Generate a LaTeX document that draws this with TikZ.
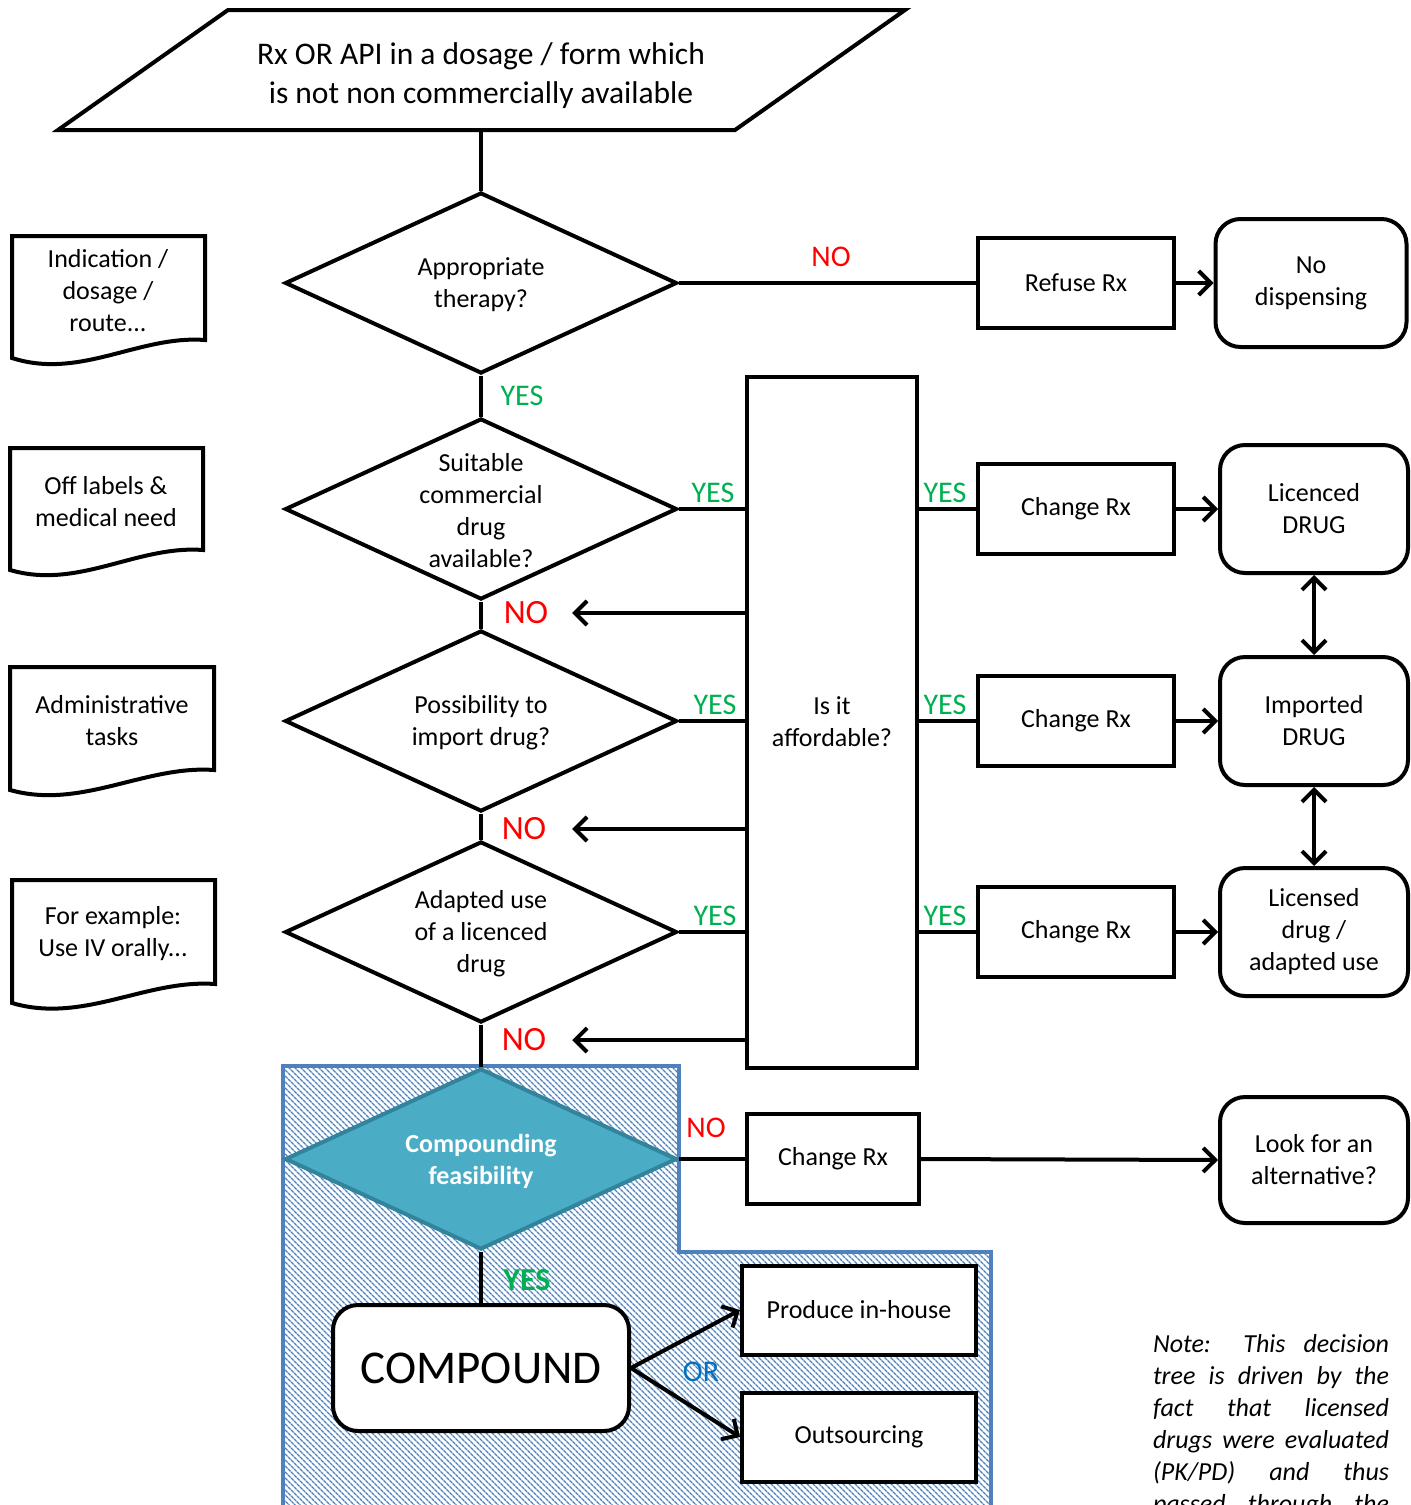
\documentclass[tikz,border=0pt]{standalone}
\usepackage{fontspec}
\setmainfont{Carlito}
\usetikzlibrary{shapes.geometric,arrows.meta,patterns.meta}
\definecolor{myred}{RGB}{255,0,0}
\definecolor{mygreen}{RGB}{0,176,80}
\definecolor{myblue}{RGB}{0,112,192}
\definecolor{hatchblue}{RGB}{79,129,189}
\definecolor{tealfill}{RGB}{75,172,198}
\definecolor{tealline}{RGB}{49,132,155}
\tikzset{
  txtbase/.style={font=\fontsize{26}{32}\selectfont, align=center, inner sep=0pt},
  txt/.style={txtbase, yshift=-2pt},
  box/.style={draw, fill=white, rectangle, minimum width=196pt, minimum height=90pt, txtbase},
  rbox/.style={box, rounded corners=25pt, minimum width=188pt, minimum height=128pt},
  dia/.style={draw, fill=white, diamond, minimum width=392pt, minimum height=181pt, inner sep=0pt},
  arr/.style={-{Straight Barb[length=12pt,width=24pt]}},
  dbl/.style={{Straight Barb[length=12pt,width=24pt]}-{Straight Barb[length=12pt,width=24pt]}},
  yeslab/.style={text=mygreen, font=\fontsize{30}{36}\selectfont, inner sep=0pt},
  nolab/.style={text=myred, font=\fontsize{30}{36}\selectfont, inner sep=0pt},
  nobig/.style={text=myred, font=\fontsize{34}{40}\selectfont, inner sep=0pt},
  docshape/.style={draw, fill=white},
}
\begin{document}
\begin{tikzpicture}[x=1pt,y=-1pt,line width=4pt]
\useasboundingbox (0,0) rectangle (1411,1505);
\clip (0,0) rectangle (1411,1505);

% hatched compounding region
\draw[hatchblue, line width=4pt, pattern={Lines[angle=-45,distance=4pt,line width=1.5pt]}, pattern color=hatchblue]
  (283,1066) -- (679,1066) -- (679,1252) -- (991,1252) -- (991,1515) -- (283,1515) -- cycle;

% top parallelogram
\draw (228,10) -- (905,10) -- (735,130) -- (58,130) -- cycle;
\node[txt, font=\fontsize{31.5}{39}\selectfont] (top) at (481,74) {Rx OR API in a dosage / form which\\is not non commercially available};
\coordinate (topb) at (481,130);

% left document shapes
\draw[docshape] (12,358) -- (12,236) -- (205,236) -- (205,340) .. controls (139,335) and (80,380) .. (12,358) -- cycle;
\node[txt] (doc1) at (108,289) {Indication /\\dosage /\\route...};
\draw[docshape] (10,570) -- (10,448) -- (203,448) -- (203,550) .. controls (137,545) and (78,590) .. (10,570) -- cycle;
\node[txt] (doc2) at (106,500) {Off labels \&\\medical need};
\draw[docshape] (10,790) -- (10,667) -- (214,667) -- (214,770) .. controls (145,765) and (81,810) .. (10,790) -- cycle;
\node[txt] (doc3) at (112,719) {Administrative\\tasks};
\draw[docshape] (12,1003) -- (12,880) -- (215,880) -- (215,984) .. controls (146,979) and (83,1024) .. (12,1003) -- cycle;
\node[txt] (doc4) at (113,932) {For example:\\Use IV orally...};

% diamonds
\node[dia] (d1) at (481,283) {};
\node[txt] (t1) at (d1) {Appropriate\\therapy?};
\node[dia] (d2) at (481,509) {};
\node[txt] (t2) at (d2) {Suitable\\commercial\\drug\\available?};
\node[dia] (d3) at (481,721) {};
\node[txt] (t3) at (d3) {Possibility to\\import drug?};
\node[dia] (d4) at (481,932) {};
\node[txt] (t4) at (d4) {Adapted use\\of a licenced\\drug};
\node[dia, fill=tealfill, draw=tealline] (d5) at (481,1159) {};
\node[txt, text=white, font=\fontsize{26}{32}\selectfont\bfseries] (t5) at (d5) {Compounding\\feasibility};

% big affordability box
\node[draw, fill=white, minimum width=170pt, minimum height=691pt, txtbase] (big) at (832,722) {Is it\\affordable?};

% right boxes
\node[box] (refuse) at (1076,283) {Refuse Rx};
\node[rbox, minimum width=191pt] (nodisp) at (1311,283) {No\\dispensing};
\node[box] (ch1) at (1076,509) {Change Rx};
\node[rbox] (lic) at (1314,509) {Licenced\\DRUG};
\node[box] (ch2) at (1076,721) {Change Rx};
\node[rbox] (imp) at (1314,721) {Imported\\DRUG};
\node[box] (ch3) at (1076,932) {Change Rx};
\node[rbox] (lad) at (1314,932) {Licensed\\drug /\\adapted use};
\node[box, minimum width=172pt] (ch4) at (833,1159) {Change Rx};
\node[rbox, minimum height=126pt] (look) at (1314,1160) {Look for an\\alternative?};

% compound part
\node[box, rounded corners=25pt, minimum width=296pt, minimum height=126pt, font=\fontsize{47}{56}\selectfont] (comp) at (481,1368) {COMPOUND};
\node[box, minimum width=234pt, minimum height=89pt] (prod) at (859,1310) {Produce in-house};
\node[box, minimum width=234pt, minimum height=89pt] (outs) at (859,1437) {Outsourcing};

% connectors
\draw (topb) -- (d1.north);
\draw (d1.south) -- (d2.north);
\draw (d2.south) -- (d3.north);
\draw (d3.south) -- (d4.north);
\draw (d4.south) -- (d5.north);
\draw (d5.south) -- (comp.north);

\draw (d1.east) -- (refuse.west);
\draw[arr] (refuse.east) -- (nodisp.west);

\draw (d2.east) -- (d2.east -| big.west);
\draw (d3.east) -- (d3.east -| big.west);
\draw (d4.east) -- (d4.east -| big.west);
\draw (big.east |- ch1.west) -- (ch1.west);
\draw (big.east |- ch2.west) -- (ch2.west);
\draw (big.east |- ch3.west) -- (ch3.west);
\draw[arr] (ch1.east) -- (lic.west);
\draw[arr] (ch2.east) -- (imp.west);
\draw[arr] (ch3.east) -- (lad.west);
\draw[dbl] (lic.south) -- (imp.north);
\draw[dbl] (imp.south) -- (lad.north);

\draw (d5.east) -- (ch4.west);
\draw[arr] (ch4.east) -- (look.west);
\draw[arr] (comp.east) -- (prod.west);
\draw[arr] (comp.east) -- (outs.west);

% labels
\node[nolab] (lno1) at (831,257) {NO};
\node[yeslab] (lyes1) at (522,396) {YES};
\node[yeslab] (lyes2) at (713,493) {YES};
\node[yeslab] (lyes3) at (945,493) {YES};
\node[yeslab] (lyes4) at (715,705) {YES};
\node[yeslab] (lyes5) at (945,705) {YES};
\node[yeslab] (lyes6) at (715,916) {YES};
\node[yeslab] (lyes7) at (945,916) {YES};
\node[nobig] (lno2) at (526,613) {NO};
\node[nobig] (lno3) at (524,829) {NO};
\node[nobig] (lno4) at (524,1040) {NO};
\node[nolab] (lno5) at (706,1128) {NO};
\node[yeslab, font=\fontsize{32}{38}\selectfont\bfseries] (lyes8) at (527,1280) {YES};
\node[text=myblue, font=\fontsize{30}{36}\selectfont, inner sep=0pt] (lor) at (701,1372) {OR};

\draw[arr] (big.west |- lno2) -- ([xshift=22pt]lno2.east);
\draw[arr] (big.west |- lno3) -- ([xshift=24pt]lno3.east);
\draw[arr] (big.west |- lno4) -- ([xshift=24pt]lno4.east);

% note
\node[anchor=north west, align=left, inner sep=0pt, font=\fontsize{26}{32}\selectfont\itshape] (note) at (1151,1332)
{\makebox[236pt][s]{Note: This decision}\\
 \makebox[236pt][s]{tree is driven by the}\\
 \makebox[236pt][s]{fact that licensed}\\
 \makebox[236pt][s]{drugs were evaluated}\\
 \makebox[236pt][s]{(PK/PD) and thus}\\
 \makebox[236pt][s]{passed through the}};
\end{tikzpicture}
\end{document}
